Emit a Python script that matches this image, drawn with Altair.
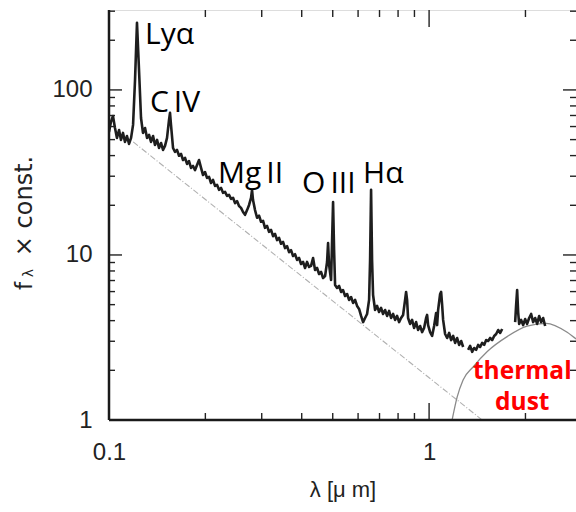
import altair as alt
import pandas as pd

# Composite quasar spectrum: rest wavelength (micron) and f_lambda (arbitrary units).
# Three pieces, separated by the gaps in the near-infrared coverage.
spec_lam = [
    0.1000, 0.1014, 0.1029, 0.1044, 0.1059, 0.1075, 0.1090, 0.1106, 0.1122, 0.1138,
    0.1155, 0.1172, 0.1189, 0.1206, 0.1223, 0.1241, 0.1259, 0.1277, 0.1296, 0.1315,
    0.1334, 0.1353, 0.1373, 0.1392, 0.1413, 0.1433, 0.1454, 0.1475, 0.1496, 0.1518,
    0.1540, 0.1551, 0.1562, 0.1585, 0.1608, 0.1631, 0.1655, 0.1679, 0.1703, 0.1728,
    0.1753, 0.1778, 0.1804, 0.1830, 0.1857, 0.1884, 0.1911, 0.1939, 0.1967, 0.1995,
    0.2024, 0.2054, 0.2083, 0.2113, 0.2144, 0.2175, 0.2207, 0.2239, 0.2271, 0.2304,
    0.2338, 0.2371, 0.2406, 0.2441, 0.2476, 0.2512, 0.2548, 0.2585, 0.2623, 0.2661,
    0.2700, 0.2739, 0.2778, 0.2798, 0.2818, 0.2859, 0.2901, 0.2943, 0.2985, 0.3029,
    0.3072, 0.3117, 0.3162, 0.3208, 0.3255, 0.3302, 0.3350, 0.3398, 0.3447, 0.3497,
    0.3548, 0.3600, 0.3652, 0.3704, 0.3758, 0.3813, 0.3868, 0.3924, 0.3981, 0.4039,
    0.4097, 0.4157, 0.4217, 0.4278, 0.4340, 0.4403, 0.4467, 0.4532, 0.4597, 0.4664,
    0.4732, 0.4800, 0.4835, 0.4870, 0.4941, 0.4977, 0.5012, 0.5049, 0.5085, 0.5159,
    0.5234, 0.5309, 0.5386, 0.5464, 0.5544, 0.5623, 0.5705, 0.5788, 0.5872, 0.5957,
    0.6043, 0.6131, 0.6220, 0.6310, 0.6401, 0.6494, 0.6541, 0.6588, 0.6635, 0.6683,
    0.6780, 0.6879, 0.6978, 0.7079, 0.7182, 0.7286, 0.7392, 0.7499, 0.7608, 0.7718,
    0.7830, 0.7943, 0.8058, 0.8175, 0.8294, 0.8414, 0.8475, 0.8536, 0.8597, 0.8722,
    0.8848, 0.8977, 0.9107, 0.9239, 0.9373, 0.9509, 0.9647, 0.9787, 0.9858, 0.9929,
    1.0073, 1.0219, 1.0368, 1.0518, 1.0594, 1.0670, 1.0826, 1.0904, 1.0983, 1.1062,
    1.1222, 1.1385, 1.1550, 1.1718, 1.1888, 1.2060, 1.2235, 1.2413, 1.2593, 1.2776,
    1.3243, 1.3434, 1.3630, 1.3827, 1.4028, 1.4231, 1.4438, 1.4648, 1.4860, 1.5076,
    1.5294, 1.5516, 1.5741, 1.5970, 1.6202, 1.6437, 1.6675, 1.6917,
    1.8570, 1.8704, 1.8839, 1.8975, 1.9112, 1.9389, 1.9671, 1.9953, 2.0243, 2.0537,
    2.0835, 2.1137, 2.1443, 2.1754, 2.2070, 2.2390, 2.2715, 2.3044,
]
spec_flux = [
    55.6, 64.0, 69.5, 58.8, 51.2, 57.2, 49.8, 54.9, 48.4, 52.6,
    47.1, 51.2, 61.4, 115.0, 255.0, 132.0, 67.6, 54.9, 58.8, 51.2,
    53.4, 48.4, 52.6, 46.4, 49.8, 44.5, 47.7, 43.3, 45.8, 51.2,
    65.8, 72.6, 61.4, 44.5, 42.1, 43.3, 39.9, 41.0, 37.6, 38.8,
    35.6, 37.1, 33.7, 34.6, 32.7, 35.1, 37.6, 33.7, 30.5, 31.8,
    29.3, 29.7, 27.3, 28.5, 26.2, 26.6, 24.8, 25.5, 23.8, 24.1,
    22.8, 23.1, 21.9, 22.2, 20.6, 21.2, 19.8, 19.3, 18.2, 17.5,
    18.7, 20.1, 22.2, 24.8, 21.5, 18.7, 16.8, 17.3, 15.9, 16.1,
    14.6, 15.0, 13.8, 14.2, 13.0, 13.4, 12.3, 12.7, 11.7, 12.0,
    11.0, 11.3, 10.4, 10.7, 9.86, 10.1, 9.33, 9.59, 8.82, 9.07,
    8.34, 9.07, 8.46, 8.58, 9.59, 8.11, 8.34, 7.67, 7.89, 7.25,
    7.45, 9.07, 11.8, 8.70, 7.05, 12.3, 20.9, 10.7, 6.58, 6.31,
    6.49, 5.97, 6.13, 5.64, 5.80, 5.34, 5.56, 5.12, 5.34, 4.91,
    4.71, 4.27, 3.92, 4.15, 4.39, 5.34, 9.33, 24.8, 9.33, 5.72,
    4.64, 4.91, 4.51, 4.78, 4.39, 4.64, 4.27, 4.58, 4.15, 4.39,
    4.04, 4.27, 3.92, 4.15, 4.33, 5.34, 5.97, 5.34, 4.15, 3.82,
    4.04, 3.61, 3.92, 3.51, 3.71, 3.41, 3.61, 4.15, 4.33, 3.76,
    3.41, 3.23, 3.71, 4.45, 3.76, 4.64, 5.80, 5.97, 4.98, 4.04,
    3.32, 3.14, 3.37, 3.05, 3.23, 2.93, 3.14, 2.85, 3.01, 2.77,
    2.66, 2.81, 2.59, 2.73, 2.66, 2.85, 2.77, 2.93, 2.85, 3.05,
    3.01, 3.14, 3.05, 3.23, 3.32, 3.51, 3.37, 3.56,
    3.92, 4.98, 6.13, 4.51, 3.82, 4.04, 3.76, 4.09, 3.82, 4.15,
    4.39, 3.92, 4.15, 3.82, 4.27, 3.92, 4.15, 3.71,
]
spec_seg = [1] * 190 + [2] * 18 + [3] * 18

# Power-law continuum (straight line in log-log space)
pl_lam = [0.119, 1.465]
pl_flux = [48.4, 1.0]

# Hot-dust emission bump
dust_lam = [1.180, 1.224, 1.277, 1.373, 1.52, 1.753, 2.024, 2.32, 2.70, 2.88, 3.0]
dust_flux = [1.0, 1.38, 1.75, 2.1, 2.6, 3.2, 3.7, 3.85, 3.4, 3.1, 2.95]

# Line annotations: left edge / baseline in data units
THIN = "\u2009"
line_names = ["Lyα", "C" + THIN + "IV", "Mg" + THIN + "II", "O" + THIN + "III", "Hα"]
line_lam = [0.1296, 0.1343, 0.2191, 0.401, 0.622]
line_flux = [190.0, 73.6, 27.3, 23.8, 27.3]

dust_text = ["thermal", "dust"]
dust_text_lam = [1.955, 1.955]
dust_text_flux = [1.77, 1.15]

# Tick positions
x_major = [0.1, 1.0]
x_minor = [0.2, 0.3, 0.4, 0.5, 0.6, 0.7, 0.8, 0.9, 2.0]
y_major = [1, 10, 100]
y_minor = [2, 3, 4, 5, 6, 7, 8, 9, 20, 30, 40, 50, 60, 70, 80, 90, 200, 300]

W, H = 467, 410
INK = "#222222"

xscale = alt.Scale(type="log", domain=[0.1, 2.877], nice=False)
yscale = alt.Scale(type="log", domain=[1, 305], nice=False)

xaxis = alt.Axis(
    values=x_major, format="~g", tickSize=0, domain=False, grid=False,
    labelFontSize=24, labelFont="Liberation Sans", labelColor=INK,
    labelPadding=20, labelFlush=False,
    title="λ [μ m]", titleFont="Liberation Sans", titleFontSize=22,
    titleFontWeight="normal", titleColor=INK, titlePadding=15,
)
yaxis = alt.Axis(
    values=y_major, format="~g", tickSize=0, domain=False, grid=False,
    labelFontSize=24, labelFont="Liberation Sans", labelColor=INK,
    labelPadding=17, labelFlush=False, title=None,
)

spec_df = pd.DataFrame({"lam": spec_lam, "flux": spec_flux, "seg": spec_seg})
pl_df = pd.DataFrame({"lam": pl_lam, "flux": pl_flux})
dust_df = pd.DataFrame({"lam": dust_lam, "flux": dust_flux})
lines_df = pd.DataFrame({"lam": line_lam, "flux": line_flux, "name": line_names})
dtext_df = pd.DataFrame({"lam": dust_text_lam, "flux": dust_text_flux, "name": dust_text})

X = alt.X("lam:Q", scale=xscale, axis=xaxis)
Y = alt.Y("flux:Q", scale=yscale, axis=yaxis)

power_law = alt.Chart(pl_df).mark_line(
    color="#b0b0b0", strokeWidth=1.1, strokeDash=[6, 2, 1, 2], clip=True
).encode(x=X, y=Y)

dust = alt.Chart(dust_df).mark_line(
    color="#8a8a8a", strokeWidth=1.3, interpolate="monotone", clip=True
).encode(x=X, y=Y)

spectrum = alt.Chart(spec_df).mark_line(
    color="#1e1e1e", strokeWidth=2.6, strokeJoin="round", clip=True
).encode(x=X, y=Y, detail="seg:N")

labels = alt.Chart(lines_df).mark_text(
    align="left", baseline="alphabetic", font="Open Sans", fontSize=30, color="black"
).encode(x=X, y=Y, text="name:N")

dust_labels = alt.Chart(dtext_df).mark_text(
    align="center", baseline="alphabetic", font="Open Sans", fontSize=24.5,
    fontWeight="bold", color="#ff0000"
).encode(x=X, y=Y, text="name:N")


def tick_layer(vals, side, length, width=1.4):
    df = pd.DataFrame({"v": vals})
    base = alt.Chart(df).mark_rule(color=INK, strokeWidth=width)
    if side in ("bottom", "top"):
        xv = alt.X("v:Q", scale=xscale, axis=xaxis)
        if side == "bottom":
            return base.encode(x=xv, y=alt.value(H), y2=alt.value(H - length))
        return base.encode(x=xv, y=alt.value(0), y2=alt.value(length))
    yv = alt.Y("v:Q", scale=yscale, axis=yaxis)
    if side == "left":
        return base.encode(y=yv, x=alt.value(0), x2=alt.value(length))
    return base.encode(y=yv, x=alt.value(W), x2=alt.value(W - length))


ticks = [
    tick_layer(x_major, "bottom", 17),
    tick_layer(x_minor, "bottom", 7),
    tick_layer(x_major, "top", 17),
    tick_layer(x_minor, "top", 7),
    tick_layer(y_major, "left", 13),
    tick_layer(y_minor, "left", 6),
    tick_layer(y_major, "right", 13),
    tick_layer(y_minor, "right", 6),
]

frame_df = pd.DataFrame({"k": [0]})
left_edge = alt.Chart(frame_df).mark_rule(color="#1a1a1a", strokeWidth=2.5).encode(
    x=alt.value(0), y=alt.value(0), y2=alt.value(H)
)
bottom_edge = alt.Chart(frame_df).mark_rule(color="#1a1a1a", strokeWidth=2.5).encode(
    x=alt.value(0), x2=alt.value(W), y=alt.value(H)
)

# Y-axis title: f with a subscript lambda, rotated
ytitle_df = pd.DataFrame({"k": [0]})
y_f = alt.Chart(ytitle_df).mark_text(
    text="f", angle=270, align="center", baseline="alphabetic",
    font="DejaVu Sans", fontSize=23, color=INK
).encode(x=alt.value(-77), y=alt.value(276))
y_sub = alt.Chart(ytitle_df).mark_text(
    text="λ", angle=270, align="center", baseline="alphabetic",
    font="DejaVu Sans", fontSize=14, color=INK
).encode(x=alt.value(-76), y=alt.value(263))
y_rest = alt.Chart(ytitle_df).mark_text(
    text="× const.", angle=270, align="center", baseline="alphabetic",
    font="DejaVu Sans", fontSize=24, color=INK
).encode(x=alt.value(-77), y=alt.value(196))

chart = alt.layer(
    power_law, dust, spectrum, labels, dust_labels,
    *ticks, left_edge, bottom_edge, y_f, y_sub, y_rest,
).properties(
    width=W, height=H,
    autosize=alt.AutoSizeParams(type="none"),
    padding={"left": 109, "top": 10, "right": 0, "bottom": 92},
).configure_view(
    stroke="#555555", strokeWidth=1.5
).configure(background="white")

chart.save("out.html", embed_options={"renderer": "svg", "actions": False})
